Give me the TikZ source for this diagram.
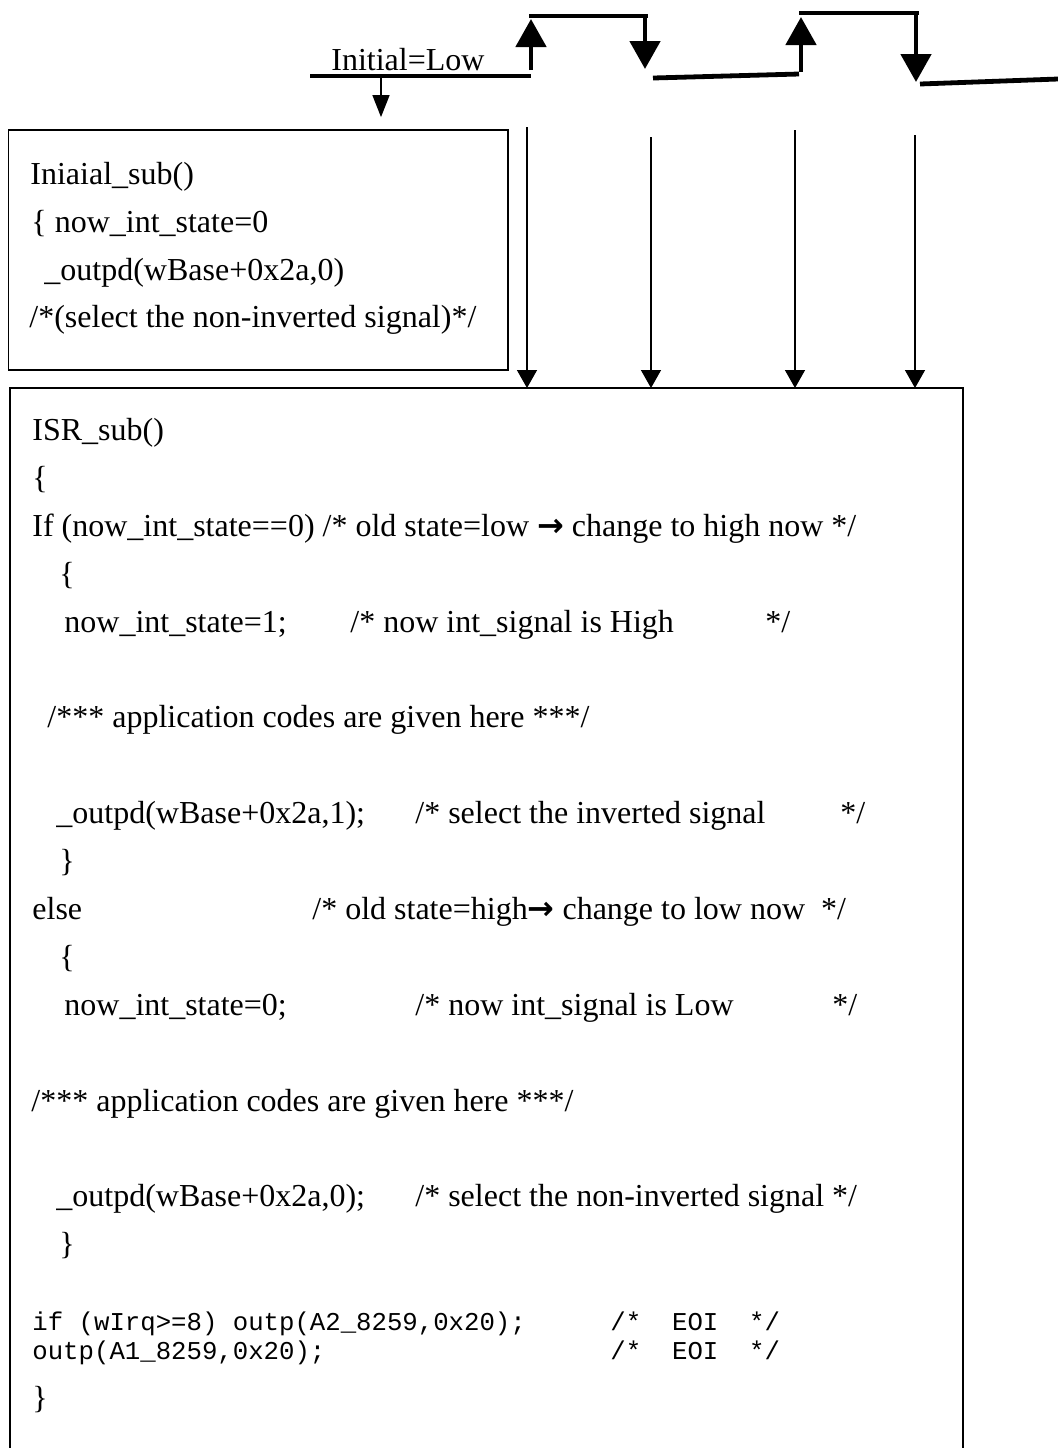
\documentclass[tikz,border=0pt]{standalone}
\usepackage{fontspec}
\setmainfont{Liberation Serif}
\setmonofont{Liberation Mono}
\newfontfamily\arrfont{DejaVu Sans}
\usetikzlibrary{arrows.meta}
\tikzset{
  wave/.style={line width=2.4pt},
  flank/.style={wave,-{Triangle[width=15pt,length=14pt]}},
  drop/.style={line width=0.7pt,-{Triangle[width=10pt,length=9pt]}},
  boxline/.style={line width=0.9pt},
  txt/.style={anchor=base west,inner sep=0pt,font=\fontsize{16}{19}\selectfont},
  mono/.style={txt,font=\ttfamily\fontsize{12.85}{15}\selectfont}
}
\newcommand{\rarr}{{\arrfont\bfseries →}}
\begin{document}
\begin{tikzpicture}[x=0.5pt,y=-0.5pt]
\useasboundingbox (0,0) rectangle (1058,1448);
% interrupt signal
\node[txt] (lbl) at (331,70) {Initial=Low};
\draw[wave] (310,76) -- (531,76);
\draw[flank] (531,70) -- (531,19);
\draw[wave] (529,16) -- (648,16);
\draw[flank] (645,14) -- (645,69);
\draw[wave] (653,78) -- (799,74);
\draw[flank] (801,72) -- (801,17);
\draw[wave] (799,13) -- (919,13);
\draw[flank] (916,11) -- (916,82);
\draw[wave] (920,84) -- (1058,79);
\coordinate (start) at (381,76);

% initial routine
\node[draw,boxline,minimum width=249.75pt,minimum height=120pt,inner sep=0pt] (init) at (258.25,250) {};
\draw[line width=0.7pt,-{Triangle[width=8.5pt,length=11pt]},shorten >=6pt] (start) -- (start |- init.north);
\node[txt] (i0) at (30,184) {Iniaial\_sub()};
\node[txt] (i1) at (31,232) {\{ now\_int\_state=0};
\node[txt] (i2) at (44,280) {\_outpd(wBase+0x2a,0)};
\node[txt] (i3) at (29,327) {/*(select the non-inverted signal)*/};

% interrupt service routine
\draw[boxline] (10,1448) -- (10,388) coordinate (isrtop) -- (963,388) -- (963,1448);
\foreach \X/\T in {527/127,651/137,795/130,915/135} {
  \coordinate (s\X) at (\X,\T);
  \draw[drop] (s\X) -- (s\X |- isrtop);}

\node[txt] (m0) at (32,440) {ISR\_sub()};
\node[txt] (m1) at (32,488) {\{};
\node[txt] (m2) at (32,536) {If (now\_int\_state==0) /* old state=low \rarr{} change to high now */};
\node[txt] (m3) at (59,584) {\{};
\node[txt] (m4) at (64,632) {now\_int\_state=1;};
\node[txt] (c4) at (350,632) {/* now int\_signal is High};
\node[txt] (e4) at (765,632) {*/};
\node[txt] (m6) at (47,727) {/*** application codes are given here ***/};
\node[txt] (m8) at (56,823) {\_outpd(wBase+0x2a,1);};
\node[txt] (c8) at (415,823) {/* select the inverted signal};
\node[txt] (e8) at (840,823) {*/};
\node[txt] (m9) at (59,871) {\}};
\node[txt] (m10) at (32,919) {else};
\node[txt] (c10) at (312,919) {/* old state=high\rarr{} change to low now\ \ */};
\node[txt] (m11) at (59,967) {\{};
\node[txt] (m12) at (64,1015) {now\_int\_state=0;};
\node[txt] (c12) at (415,1015) {/* now int\_signal is Low};
\node[txt] (e12) at (832,1015) {*/};
\node[txt] (m14) at (31,1111) {/*** application codes are given here ***/};
\node[txt] (m16) at (56,1206) {\_outpd(wBase+0x2a,0);};
\node[txt] (c16) at (415,1206) {/* select the non-inverted signal */};
\node[txt] (m17) at (59,1254) {\}};
\node[mono] (k1) at (32,1330) {if (wIrq>=8) outp(A2\_8259,0x20);};
\node[mono] (n1) at (610,1330) {/*\ \ EOI\ \ */};
\node[mono] (k2) at (32,1359) {outp(A1\_8259,0x20);};
\node[mono] (n2) at (610,1359) {/*\ \ EOI\ \ */};
\node[txt] (m18) at (32,1408) {\}};
\end{tikzpicture}
\end{document}
